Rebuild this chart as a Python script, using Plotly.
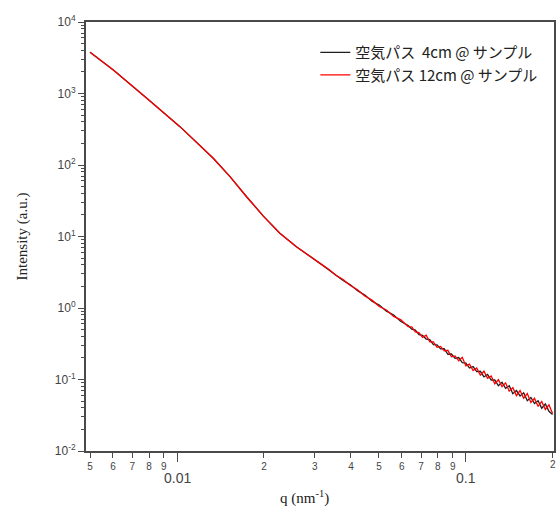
import numpy as np
import plotly.graph_objects as go

# ---- data ----
# smooth low-q part (identical for both measurements)
q_low = [0.00500, 0.00602, 0.00786, 0.01024, 0.01335, 0.01526, 0.01741,
         0.01990, 0.02270, 0.02590]
I_low = [3770, 2130, 857, 344, 124, 68.7, 36.0, 19.3, 11.1, 7.19]

# noisy high-q part
q_high = [0.03162, 0.03350, 0.03548, 0.03758, 0.03981, 0.04217, 0.04467,
          0.04732, 0.05012, 0.05309, 0.05623, 0.05957, 0.06310, 0.06494,
          0.06683, 0.06879, 0.07079, 0.07286, 0.07499, 0.07718, 0.07943,
          0.08175, 0.08414, 0.08660, 0.08913, 0.09173, 0.09441, 0.09716,
          0.10000, 0.10292, 0.10593, 0.10902, 0.11220, 0.11548, 0.11885,
          0.12232, 0.12589, 0.12957, 0.13335, 0.13725, 0.14125, 0.14538,
          0.14962, 0.15399, 0.15849, 0.16312, 0.16788, 0.17278, 0.17783,
          0.18302, 0.18836, 0.19387, 0.19953]

I_4cm_high = [4.074, 3.412, 2.931, 2.427, 2.109, 1.738, 1.514, 1.242, 1.099,
              0.9036, 0.7998, 0.6457, 0.5702, 0.5047, 0.4898, 0.4236, 0.4150,
              0.3681, 0.3606, 0.3083, 0.3055, 0.2679, 0.2692, 0.2254, 0.2275,
              0.1977, 0.2028, 0.1722, 0.1698, 0.1445, 0.1514, 0.1288, 0.1303,
              0.1086, 0.1180, 0.09840, 0.09886, 0.08166, 0.09120, 0.07551,
              0.08166, 0.06324, 0.06998, 0.05888, 0.06516, 0.05047, 0.05598,
              0.04603, 0.05047, 0.03963, 0.04539, 0.03597, 0.03236]

I_12cm_high = [4.074, 3.483, 2.864, 2.500, 2.061, 1.803, 1.469, 1.288, 1.050,
               0.9376, 0.7638, 0.6839, 0.5495, 0.5433, 0.4624, 0.4539, 0.3890,
               0.4178, 0.3365, 0.3365, 0.2818, 0.2904, 0.2512, 0.2559, 0.2075,
               0.2133, 0.1828, 0.2046, 0.1549, 0.1641, 0.1334, 0.1445, 0.1148,
               0.1306, 0.1040, 0.1117, 0.08710, 0.09931, 0.07943, 0.08974,
               0.06871, 0.07691, 0.05957, 0.06998, 0.05483, 0.06353, 0.04764,
               0.05470, 0.04198, 0.04932, 0.03819, 0.04426, 0.03350]

series_names = ["空気パス  4cm @ サンプル", "空気パス 12cm @ サンプル"]

x_digit_vals = [0.005, 0.006, 0.007, 0.008, 0.009,
                0.02, 0.03, 0.04, 0.05, 0.06, 0.07, 0.08, 0.09, 0.2]
x_digit_text = ["5", "6", "7", "8", "9",
                "2", "3", "4", "5", "6", "7", "8", "9", "2"]
x_major_vals = [0.01, 0.1]
x_major_text = ["0.01", "0.1"]

y_tick_vals = [1e-2, 1e-1, 1e0, 1e1, 1e2, 1e3, 1e4]
y_tick_text = ["10<sup>-2</sup>", "10<sup>-1</sup>", "10<sup>0</sup>",
               "10<sup>1</sup>", "10<sup>2</sup>", "10<sup>3</sup>",
               "10<sup>4</sup>"]

# ---- figure ----
q_all = q_low + q_high
fig = go.Figure()
fig.add_trace(go.Scatter(x=q_all, y=I_low + I_4cm_high, mode="lines",
                         name=series_names[0],
                         line=dict(color="#1e1e1e", width=1.3)))
fig.add_trace(go.Scatter(x=q_all, y=I_low + I_12cm_high, mode="lines",
                         name=series_names[1],
                         line=dict(color="#ff0000", width=1.3)))

y_minor = [m * 10.0 ** e for e in range(-2, 4) for m in range(2, 10)]

axis_col = "#4a4a4a"
tick_font = "Liberation Sans, Arial, sans-serif"
annots = [
    dict(text="q (nm<sup>-1</sup>)", xref="paper", yref="paper",
         x=0.466, y=0, yshift=-46, xanchor="center", yanchor="middle",
         showarrow=False,
         font=dict(family="Liberation Serif, Times New Roman, serif",
                   size=15, color="#222")),
    dict(text="Intensity (a.u.)", xref="paper", yref="paper",
         x=0, xshift=-64, y=0.5, xanchor="center", yanchor="middle",
         textangle=-90, showarrow=False,
         font=dict(family="Liberation Serif, Times New Roman, serif",
                   size=15, color="#222")),
]
for v, t in zip(x_major_vals, x_major_text):
    annots.append(dict(text=t, xref="x", yref="paper", x=np.log10(v), y=0,
                       yshift=-27, xanchor="center", yanchor="middle",
                       showarrow=False,
                       font=dict(family=tick_font, size=14, color="#444")))
# the last digit label sits on the window edge; draw it as an annotation
annots.append(dict(text=x_digit_text[-1], xref="x", yref="paper",
                   x=np.log10(x_digit_vals[-1]), y=0, yshift=-13,
                   xanchor="center", yanchor="middle", showarrow=False,
                   font=dict(family=tick_font, size=10, color="#444")))

fig.update_layout(
    width=556, height=508,
    margin=dict(l=86, r=0, t=22, b=57),
    paper_bgcolor="white", plot_bgcolor="white",
    font=dict(family="Noto Sans CJK JP, Noto Sans, sans-serif", color="#333"),
    showlegend=True,
    legend=dict(x=0.49, y=0.967, xanchor="left", yanchor="top",
                bgcolor="rgba(255,255,255,0)", font=dict(size=15, color="#222"),
                tracegroupgap=0, itemwidth=30),
    xaxis=dict(type="log", range=[-2.315, -0.695],
               tickvals=x_digit_vals, ticktext=x_digit_text[:-1] + [""],
               tickangle=0,
               tickfont=dict(family=tick_font, size=10, color="#444"),
               ticks="outside", ticklen=5, tickwidth=1, tickcolor=axis_col,
               minor=dict(tickvals=x_major_vals, ticks="outside", ticklen=9,
                          tickwidth=1, tickcolor=axis_col),
               showline=True, linecolor=axis_col, linewidth=2, mirror=True,
               showgrid=False, zeroline=False),
    yaxis=dict(type="log", range=[-2, 4],
               tickvals=y_tick_vals, ticktext=y_tick_text,
               tickfont=dict(family=tick_font, size=12, color="#444"),
               ticks="outside", ticklen=6, tickwidth=1, tickcolor=axis_col,
               minor=dict(tickvals=y_minor, ticks="outside", ticklen=3,
                          tickcolor=axis_col),
               showline=True, linecolor=axis_col, linewidth=2, mirror=True,
               showgrid=False, zeroline=False),
    annotations=annots,
)

# remove the default page margin so the figure fills the window exactly
fig.write_html(
    "out.html",
    config={"displayModeBar": False},
    post_script="document.body.style.margin='0';"
                "document.body.style.overflow='hidden';",
)
